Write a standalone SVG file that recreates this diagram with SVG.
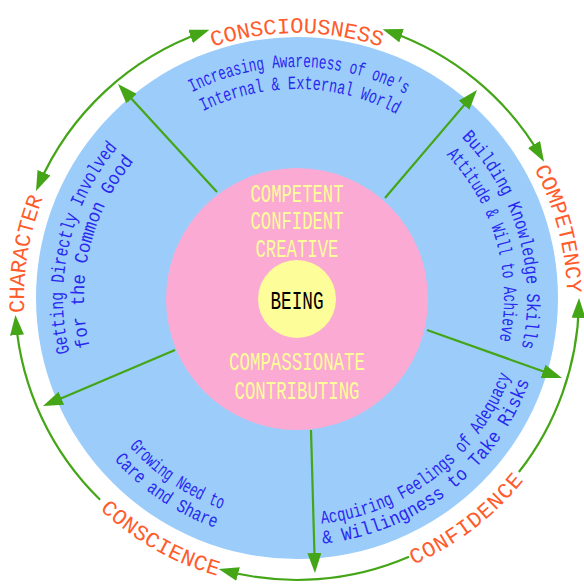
<svg xmlns="http://www.w3.org/2000/svg" width="584" height="585" viewBox="0 0 584 585">
<style>
.lbl{font-family:'Liberation Mono','DejaVu Sans Mono',monospace;font-size:22px;fill:#ff5b2b}
.bt{font-family:'Liberation Mono','DejaVu Sans Mono',monospace;font-size:19px;fill:#2828f0}
.it{font-family:'Liberation Mono','DejaVu Sans Mono',monospace;font-size:26px;fill:#fdfd99;text-anchor:middle}
.con{fill:none;stroke:#44a516;stroke-width:2.2}
</style>
<defs>
<marker id="ah" viewBox="0 0 20 14" refX="14" refY="7" markerWidth="20" markerHeight="14" markerUnits="userSpaceOnUse" orient="auto-start-reverse">
<path d="M0,0 L20,7 L0,14 z" fill="#44a516"/>
</marker>
<path id="pConsciousness" d="M212.9,46.7 A265,265 0 0 1 381.1,46.7"/>
<path id="pCompetency" d="M534.3,169.2 A270,270 0 0 1 567.0,293.3"/>
<path id="pCharacter" d="M24.4,312.8 A273,273 0 0 1 43.2,197.5"/>
<path id="pConfidence" d="M413.5,564.7 A291,291 0 0 0 524.1,479.9"/>
<path id="pConscience" d="M99.9,509.4 A289,289 0 0 0 217.3,575.8"/>
<path id="pT1" d="M192.1,92.2 A231,231 0 0 1 406.2,94.4"/>
<path id="pT2" d="M203.1,111.3 A209,209 0 0 1 397.0,114.5"/>
<path id="pR1" d="M461.6,137.4 A230,230 0 0 1 521.5,348.2"/>
<path id="pR2" d="M446.4,154.7 A207,207 0 0 1 499.4,341.4"/>
<path id="pB1" d="M321.5,523.7 A227,227 0 0 0 510.6,374.9"/>
<path id="pB2" d="M322.8,543.6 A247,247 0 0 0 529.8,380.4"/>
<path id="pG1" d="M129.2,446.4 A224,224 0 0 0 222.2,509.1"/>
<path id="pG2" d="M114.2,459.7 A244,244 0 0 0 215.6,528.0"/>
<path id="pL1" d="M69.5,352.6 A234,234 0 0 1 117.7,147.6"/>
<path id="pL2" d="M89.7,347.0 A213,213 0 0 1 133.8,161.1"/>
</defs>

<g id="outer-disc">
<circle cx="297" cy="298" r="261" fill="#9ccdfa"/>
</g>

<g id="connectors">
<path class="con" d="M38.4,185.6 A282,282 0 0 1 203.8,31.8" marker-start="url(#ah)" marker-end="url(#ah)"/>
<path class="con" d="M388.3,31.2 A282,282 0 0 1 541.0,156.6" marker-start="url(#ah)" marker-end="url(#ah)"/>
<path class="con" d="M518.9,472.0 A282,282 0 0 0 578.9,303.9" marker-end="url(#ah)"/>
<path class="con" d="M409.0,556.8 A282,282 0 0 1 224.5,570.5" marker-end="url(#ah)"/>
<path class="con" d="M100.1,499.8 A282,282 0 0 1 15.9,321.1" marker-end="url(#ah)"/>
<path class="con" d="M217,192 L122.1,88.4" marker-end="url(#ah)"/>
<path class="con" d="M385,198 L473.1,94.6" marker-end="url(#ah)"/>
<path class="con" d="M427,330 L556.3,376.0" marker-end="url(#ah)"/>
<path class="con" d="M311,430 L314.8,567.0" marker-end="url(#ah)"/>
<path class="con" d="M175,350 L48.5,403.7" marker-end="url(#ah)"/>
</g>

<g id="qualities">
<circle cx="297" cy="299" r="131" fill="#fbaad3"/>
<text class="it" x="297" y="202" textLength="93" lengthAdjust="spacingAndGlyphs">COMPETENT</text>
<text class="it" x="297" y="229" textLength="93" lengthAdjust="spacingAndGlyphs">CONFIDENT</text>
<text class="it" x="297" y="257" textLength="83" lengthAdjust="spacingAndGlyphs">CREATIVE</text>
<text class="it" x="297" y="370" textLength="136" lengthAdjust="spacingAndGlyphs">COMPASSIONATE</text>
<text class="it" x="297" y="399" textLength="125" lengthAdjust="spacingAndGlyphs">CONTRIBUTING</text>
</g>

<g id="being">
<circle cx="297" cy="299" r="39" fill="#fdfd99"/>
<text class="it" x="297" y="309" style="fill:#000" textLength="53" lengthAdjust="spacingAndGlyphs">BEING</text>
</g>

<g id="consciousness"><text class="lbl"><textPath href="#pConsciousness" textLength="171">CONSCIOUSNESS</textPath></text></g>
<g id="competency"><text class="lbl"><textPath href="#pCompetency" textLength="129">COMPETENCY</textPath></text></g>
<g id="confidence"><text class="lbl"><textPath href="#pConfidence" textLength="140">CONFIDENCE</textPath></text></g>
<g id="conscience"><text class="lbl"><textPath href="#pConscience" textLength="136">CONSCIENCE</textPath></text></g>
<g id="character"><text class="lbl"><textPath href="#pCharacter" textLength="117">CHARACTER</textPath></text></g>

<g id="awareness">
<text class="bt"><textPath href="#pT1" textLength="222" lengthAdjust="spacingAndGlyphs">Increasing Awareness of one's</textPath></text>
<text class="bt"><textPath href="#pT2" textLength="201" lengthAdjust="spacingAndGlyphs">Internal &amp; External World</textPath></text>
</g>
<g id="building">
<text class="bt"><textPath href="#pR1" textLength="228" lengthAdjust="spacingAndGlyphs">Building Knowledge Skills</textPath></text>
<text class="bt"><textPath href="#pR2" textLength="201" lengthAdjust="spacingAndGlyphs">Attitude &amp; Will to Achieve</textPath></text>
</g>
<g id="acquiring">
<text class="bt"><textPath href="#pB1" textLength="253" lengthAdjust="spacingAndGlyphs">Acquiring Feelings of Adequacy</textPath></text>
<text class="bt"><textPath href="#pB2" textLength="277" lengthAdjust="spacingAndGlyphs">&amp; Willingness to Take Risks</textPath></text>
</g>
<g id="growing">
<text class="bt"><textPath href="#pG1" textLength="113" lengthAdjust="spacingAndGlyphs">Growing Need to</textPath></text>
<text class="bt"><textPath href="#pG2" textLength="123" lengthAdjust="spacingAndGlyphs">Care and Share</textPath></text>
</g>
<g id="getting">
<text class="bt"><textPath href="#pL1" textLength="218" lengthAdjust="spacingAndGlyphs">Getting Directly Involved</textPath></text>
<text class="bt"><textPath href="#pL2" textLength="198" lengthAdjust="spacingAndGlyphs">for the Common Good</textPath></text>
</g>
</svg>
